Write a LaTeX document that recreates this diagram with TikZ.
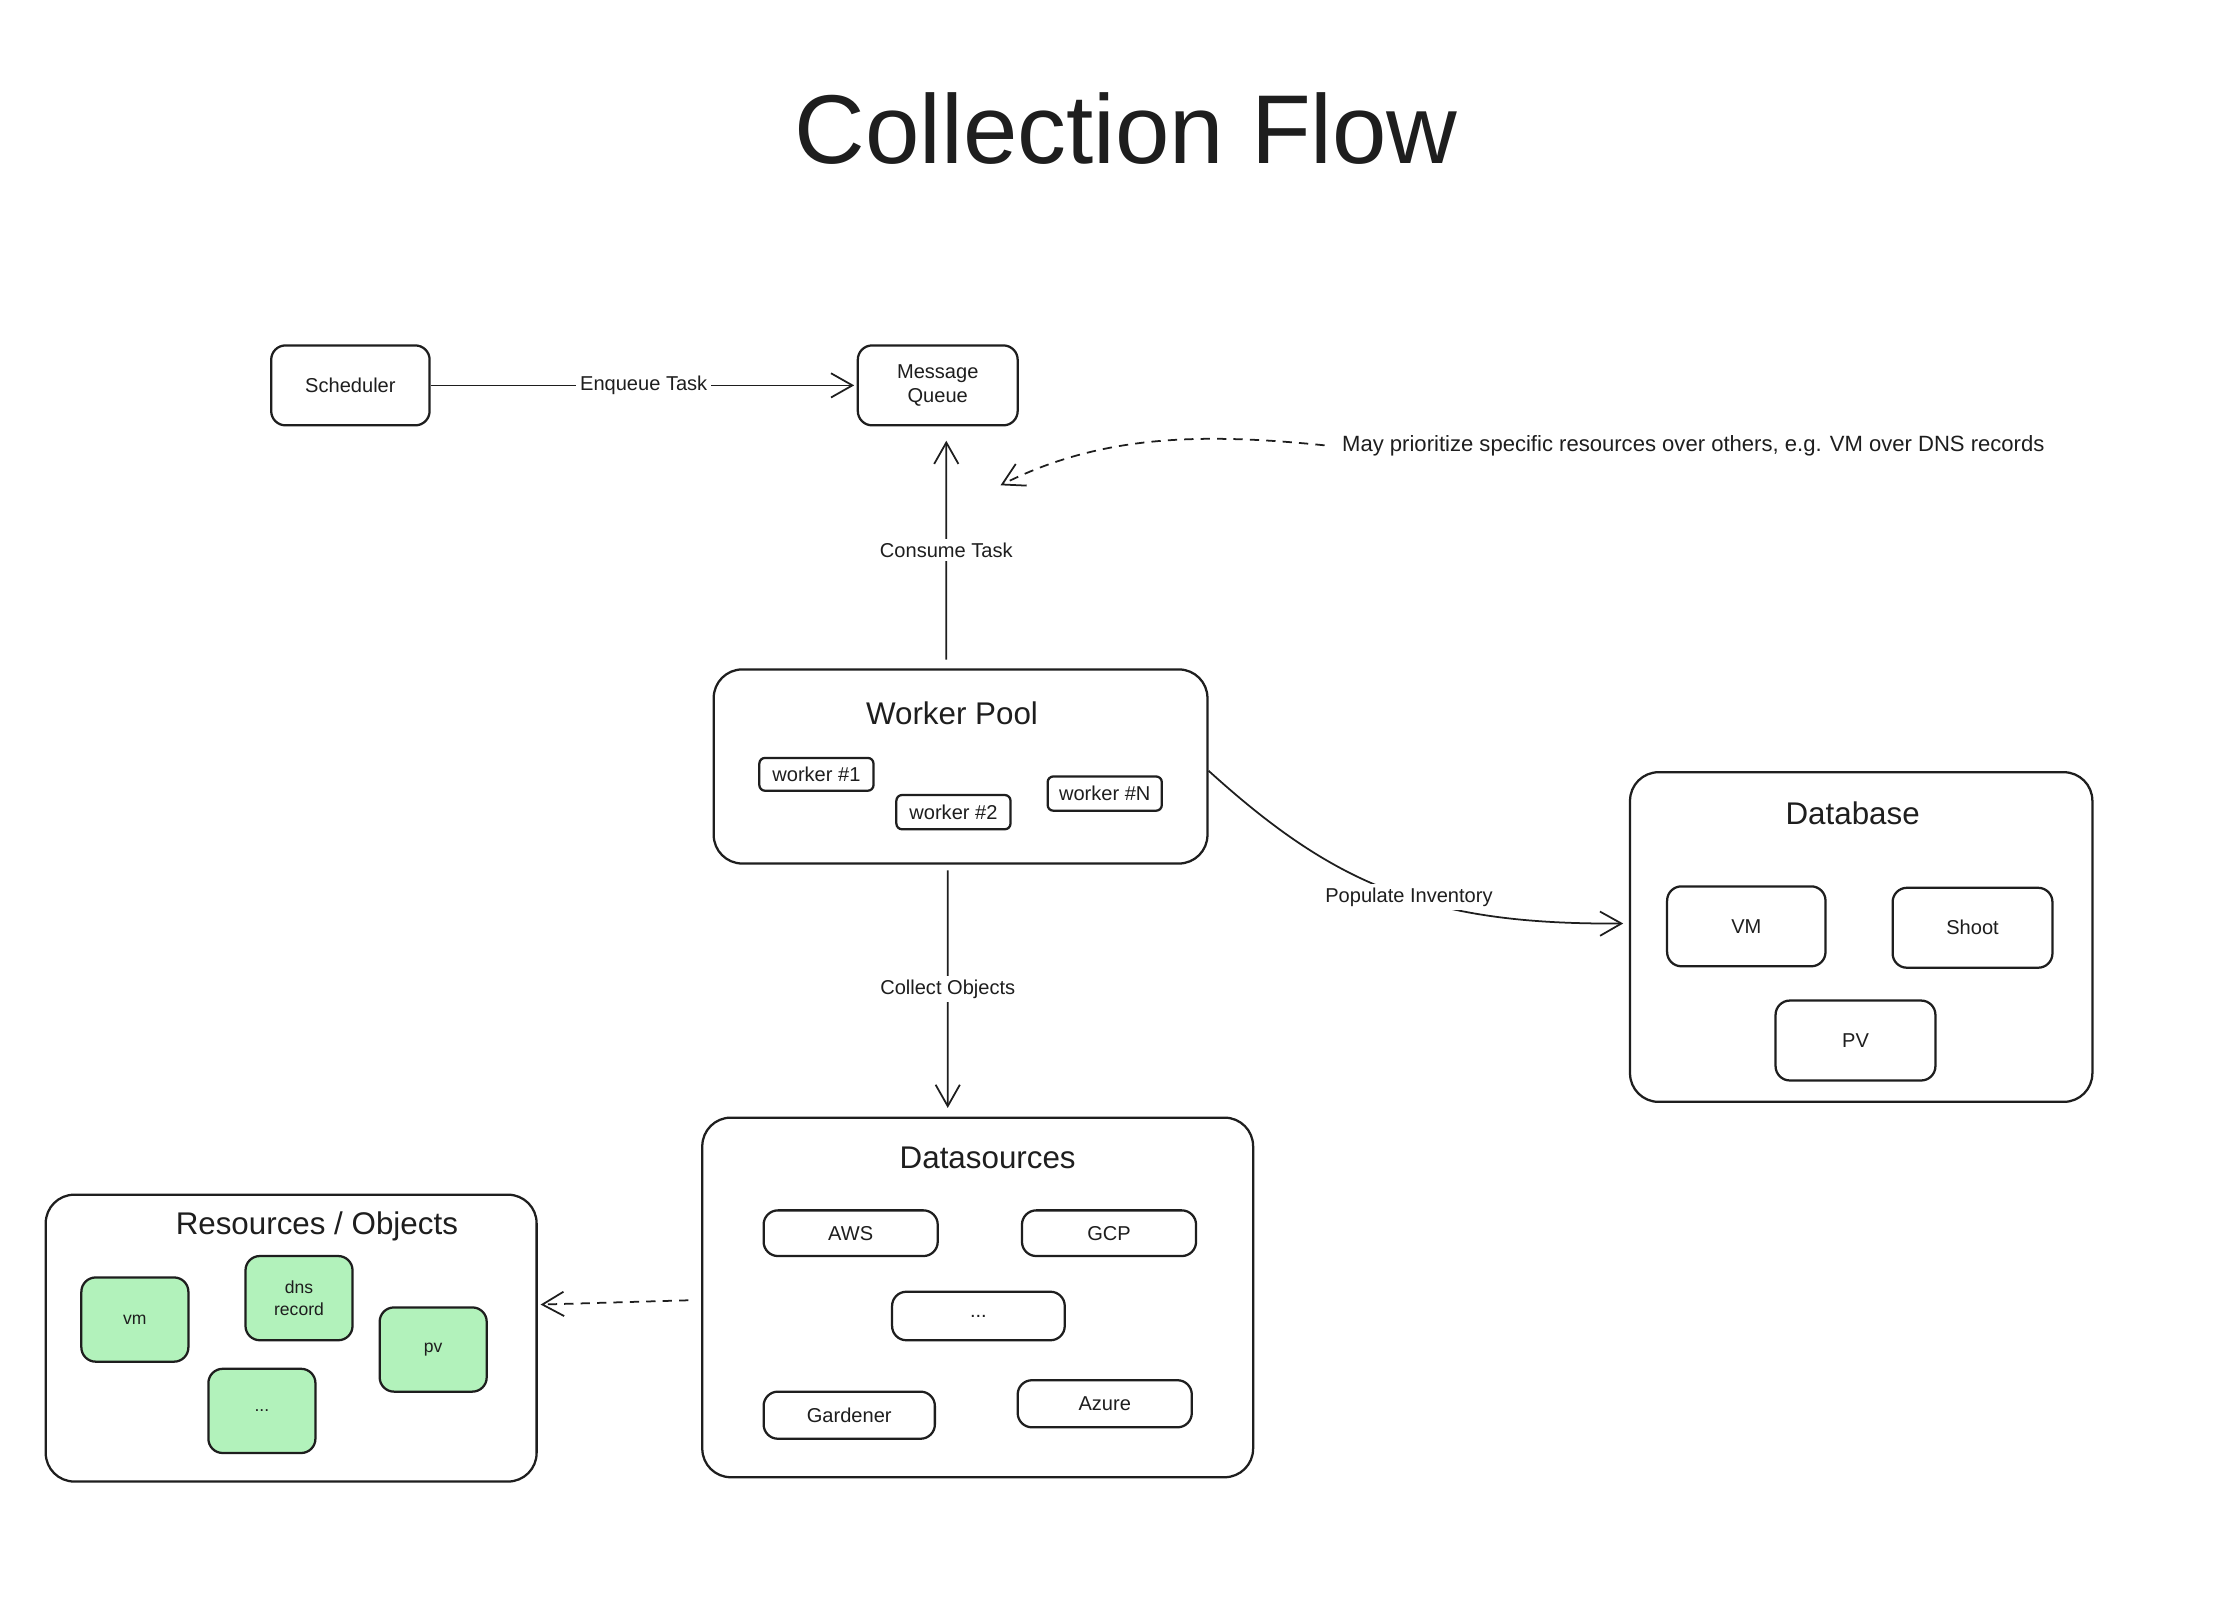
\documentclass[tikz,border=0pt]{standalone}
\usepackage{fontspec}
\setmainfont{Liberation Sans}
\usetikzlibrary{arrows.meta,calc}
\definecolor{ink}{HTML}{1E1E1E}
\definecolor{mint}{HTML}{B2F2BB}
\begin{document}
\begin{tikzpicture}[x=0.02cm,y=-0.02cm,
  box/.style={draw=ink, line width=0.9pt, rounded corners=0.2cm, fill=white, text=ink,
    font=\fontsize{8}{9.5}\selectfont, align=center, inner sep=0pt},
  bigbox/.style={draw=ink, line width=0.9pt, rounded corners=0.4cm, fill=white, inner sep=0pt},
  smallbox/.style={box, rounded corners=0.08cm},
  greenbox/.style={box, fill=mint, font=\fontsize{7}{8.5}\selectfont},
  arr/.style={draw=ink, line width=0.7pt, -{Straight Barb[length=0.3cm,width=0.34cm,line width=0.7pt]}},
  dasharr/.style={arr, dash pattern=on 0.13cm off 0.1cm},
  lbl/.style={fill=white, text=ink, font=\fontsize{8}{9.5}\selectfont, inner sep=1.5pt},
  ttl/.style={text=ink, font=\fontsize{12.5}{14}\selectfont, inner sep=0pt}
]
\useasboundingbox[fill=white] (0,0) rectangle (1568,1130);

% title
\node[text=ink, font=\fontsize{39}{44}\selectfont] (title) at (789,90) {Collection Flow};

% top row
\node[box, minimum width=2.22cm, minimum height=1.12cm] (sched) at (245.5,270) {Scheduler};
\node[box, minimum width=2.24cm, minimum height=1.12cm] (mq) at (657,270) {Message\\Queue};

% worker pool
\node[bigbox, minimum width=6.92cm, minimum height=2.72cm] (wp) at (673,537) {};
\node[ttl] (wpt) at (667,500) {Worker Pool};
\node[smallbox, minimum width=1.6cm, minimum height=0.46cm] (w1) at (572,542.5) {worker \#1};
\node[smallbox, minimum width=1.6cm, minimum height=0.48cm] (w2) at (668,569) {worker \#2};
\node[smallbox, minimum width=1.6cm, minimum height=0.48cm] (wn) at (774,556) {worker \#N};

% database
\node[bigbox, minimum width=6.48cm, minimum height=4.62cm] (db) at (1304,656.5) {};
\node[ttl] (dbt) at (1298,570) {Database};
\node[box, minimum width=2.22cm, minimum height=1.12cm] (dvm) at (1223.5,649) {VM};
\node[box, minimum width=2.24cm, minimum height=1.12cm] (dshoot) at (1382,650) {Shoot};
\node[box, minimum width=2.24cm, minimum height=1.12cm] (dpv) at (1300,729) {PV};

% datasources
\node[bigbox, minimum width=7.72cm, minimum height=5.04cm] (ds) at (685,909) {};
\node[ttl] (dst) at (692,811) {Datasources};
\node[box, minimum width=2.44cm, minimum height=0.64cm] (aws) at (596,864) {AWS};
\node[box, minimum width=2.44cm, minimum height=0.64cm] (gcp) at (777,864) {GCP};
\node[box, minimum width=2.42cm, minimum height=0.68cm] (dsdots) at (685.5,922) {...};
\node[box, minimum width=2.4cm, minimum height=0.66cm] (gard) at (595,991.5) {Gardener};
\node[box, minimum width=2.44cm, minimum height=0.66cm] (azure) at (774,983.5) {Azure};

% resources / objects
\node[bigbox, minimum width=6.88cm, minimum height=4.02cm] (res) at (204,937.5) {};
\node[ttl] (rest) at (222,859) {Resources / Objects};
\node[greenbox, minimum width=1.5cm, minimum height=1.18cm] (rvm) at (94.5,924.5) {vm};
\node[greenbox, minimum width=1.5cm, minimum height=1.18cm] (rdns) at (209.5,909.5) {dns\\record};
\node[greenbox, minimum width=1.5cm, minimum height=1.18cm] (rpv) at (303.5,945.5) {pv};
\node[greenbox, minimum width=1.5cm, minimum height=1.18cm] (rdots) at (183.5,988.5) {...};

% note
\node[lbl, anchor=west, inner sep=0pt, font=\fontsize{8.8}{10}\selectfont] (note) at (940,312) {May prioritize specific resources over others, e.g. VM over DNS records};
\coordinate (prio) at (701,340);

% connectors
\draw[arr, shorten >=1pt] (sched) -- node[lbl] {Enqueue Task} (mq);
\draw[arr] ([xshift=-0.2cm]wp.north) ++(0,-6) -- node[lbl] {Consume Task} ([xshift=0.12cm,yshift=-0.2cm]mq.south);
\draw[arr] ([xshift=-0.18cm,yshift=-0.08cm]wp.south) -- node[lbl] {Collect Objects} ([xshift=-0.42cm,yshift=0.12cm]ds.north);
\draw[arr] ([yshift=-0.06cm]wp.east) .. controls (935,620) and (1000,648) .. node[lbl, pos=0.55] {Populate Inventory} ([xshift=-0.08cm,yshift=0.19cm]db.west);
\draw[dasharr] ([xshift=-0.24cm]note.west) .. controls (840,303) and (770,305) .. (prio);
\draw[dasharr] ([xshift=-0.18cm,yshift=-0.04cm]ds.west) -- ([xshift=0.04cm,yshift=0.47cm]res.east);
\end{tikzpicture}
\end{document}
